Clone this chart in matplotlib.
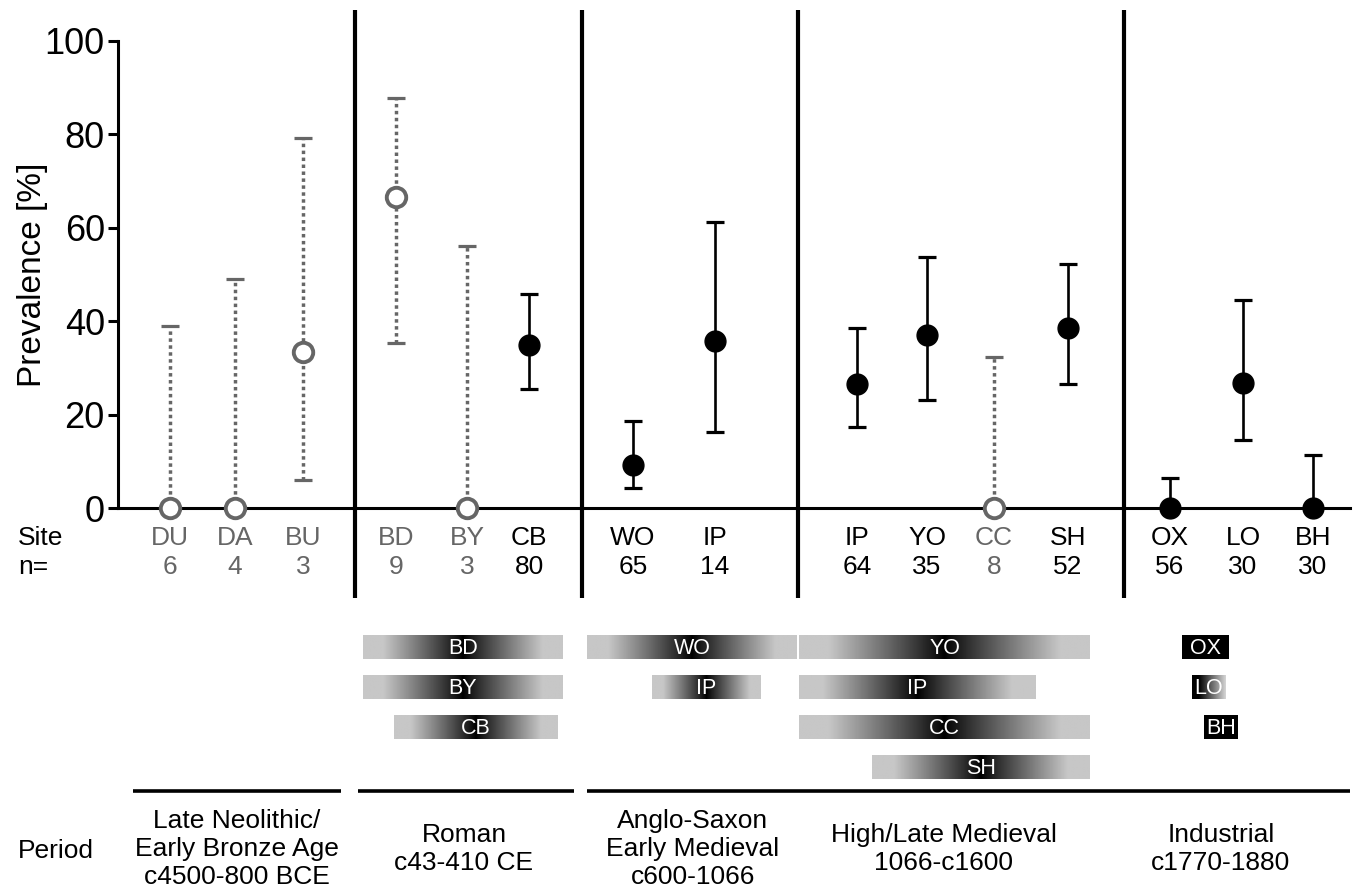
import matplotlib
matplotlib.use("Agg")
import matplotlib.pyplot as plt
import numpy as np

plt.rcParams["font.family"] = ["Liberation Sans", "DejaVu Sans"]

# prevalence per site with 95% CI
sites = ["DU", "DA", "BU", "BD", "BY", "CB", "WO", "IP", "IP", "YO", "CC", "SH", "OX", "LO", "BH"]
n_ind = [6, 4, 3, 9, 3, 80, 65, 14, 64, 35, 8, 52, 56, 30, 30]
prevalence = [0, 0, 33.3, 66.7, 0, 35.0, 9.2, 35.7, 26.6, 37.1, 0, 38.5, 0, 26.7, 0]
ci_low = [0, 0, 6.1, 35.4, 0, 25.5, 4.3, 16.3, 17.3, 23.2, 0, 26.5, 0, 14.6, 0]
ci_high = [39.0, 49.0, 79.2, 87.9, 56.1, 45.9, 18.7, 61.2, 38.5, 53.7, 32.4, 52.2, 6.4, 44.6, 11.4]

periods = [
    "Late Neolithic/\nEarly Bronze Age\nc4500-800 BCE",
    "Roman\nc43-410 CE",
    "Anglo-Saxon\nEarly Medieval\nc600-1066",
    "High/Late Medieval\n1066-c1600",
    "Industrial\nc1770-1880",
]

# date-range bars (timeline drawn in the same horizontal units as the sites)
bar_labels = ["BD", "BY", "CB", "WO", "IP", "YO", "IP", "CC", "SH", "OX", "LO", "BH"]
bar_start = [363, 363, 394, 587, 652, 799, 799, 799, 872, 1182, 1192, 1204]
bar_end = [563, 563, 558, 797, 761, 1090, 1036, 1090, 1090, 1229, 1226, 1238]
bar_row = [0, 1, 2, 0, 1, 0, 1, 2, 3, 0, 1, 2]
bar_shape = ["mid"] * 9 + ["solid", "fade", "solid"]

# layout (figure pixel units)
W, H = 1356, 892
site_x = [170, 235, 303, 396, 467, 529, 633, 715, 857, 927, 994, 1068, 1170, 1243, 1313]
separators_x = [355, 582, 798, 1124]
period_x = [237, 464, 693, 944, 1221]
period_lines = [(133, 341), (358, 574), (587, 1350)]
row_y = [647, 687, 727, 767]
GRAY = "#666666"


def bar_gradient(shape):
    t = np.linspace(0, 1, 256)
    if shape == "mid":
        return 0.78 * np.clip(np.abs(t - 0.5) / 0.4, 0, 1) ** 0.9
    if shape == "fade":
        return 0.84 * np.clip((t - 0.2) / 0.8, 0, 1)
    return np.zeros_like(t)


fig = plt.figure(figsize=(W / 100, H / 100), dpi=100)
ax = fig.add_axes([118 / W, 1 - 508 / H, (1350 - 118) / W, (508 - 41) / H])
ax.set_xlim(118, 1350)
ax.set_ylim(0, 100)

for x, p, lo, hi, n in zip(site_x, prevalence, ci_low, ci_high, n_ind):
    small = n < 10
    col = GRAY if small else "black"
    eb = ax.errorbar(x, p, yerr=[[p - lo], [hi - p]], fmt="none", ecolor=col,
                     elinewidth=2.5 if small else 1.9, capsize=6.5, capthick=2.3,
                     zorder=3, clip_on=False)
    if small:
        eb[2][0].set_linestyle((0, (1, 1)))
    ax.plot(x, p, "o", ms=14 if small else 15, mfc="white" if small else "black",
            mec=col, mew=2.8 if small else 1, clip_on=False, zorder=4)

for side in ("top", "right"):
    ax.spines[side].set_visible(False)
for side in ("left", "bottom"):
    ax.spines[side].set_linewidth(2.2)
ax.set_xticks([])
ax.set_yticks([0, 20, 40, 60, 80, 100])
ax.tick_params(axis="y", labelsize=26, length=7.5, width=2.2, pad=2)
ax.set_ylabel("Prevalence [%]", fontsize=24, va="center")
ax.yaxis.set_label_coords(-0.069, 0.5)

# everything outside the plot box goes on a pixel-unit overlay
ov = fig.add_axes([0, 0, 1, 1])
ov.vlines(separators_x, 10, 598, color="black", lw=3)

ov.text(18, 538, "Site", fontsize=19, ha="left", va="center")
ov.text(18, 567, "n=", fontsize=19, ha="left", va="center")
for x, s, n in zip(site_x, sites, n_ind):
    col = GRAY if n < 10 else "black"
    ov.text(x, 538, s, fontsize=19, ha="center", va="center", color=col)
    ov.text(x, 567, str(n), fontsize=19, ha="center", va="center", color=col)

for lab, x0, x1, r, shape in zip(bar_labels, bar_start, bar_end, bar_row, bar_shape):
    yc = row_y[r]
    ov.imshow(bar_gradient(shape)[None, :], cmap="gray", vmin=0, vmax=1,
              extent=(x0, x1, yc + 12, yc - 12), aspect="auto", interpolation="bilinear")
    ov.text((x0 + x1) / 2, yc + 1, lab, color="white", fontsize=15.5, ha="center", va="center")

for x0, x1 in period_lines:
    ov.hlines(791, x0, x1, color="black", lw=2.6)
ov.text(18, 851, "Period", fontsize=19, ha="left", va="center")
for x, lab in zip(period_x, periods):
    ov.text(x, 849, lab, fontsize=19, ha="center", va="center", linespacing=1.22)

ov.set_xlim(0, W)
ov.set_ylim(H, 0)
ov.set_axis_off()

fig.savefig("out.png", dpi=100)
